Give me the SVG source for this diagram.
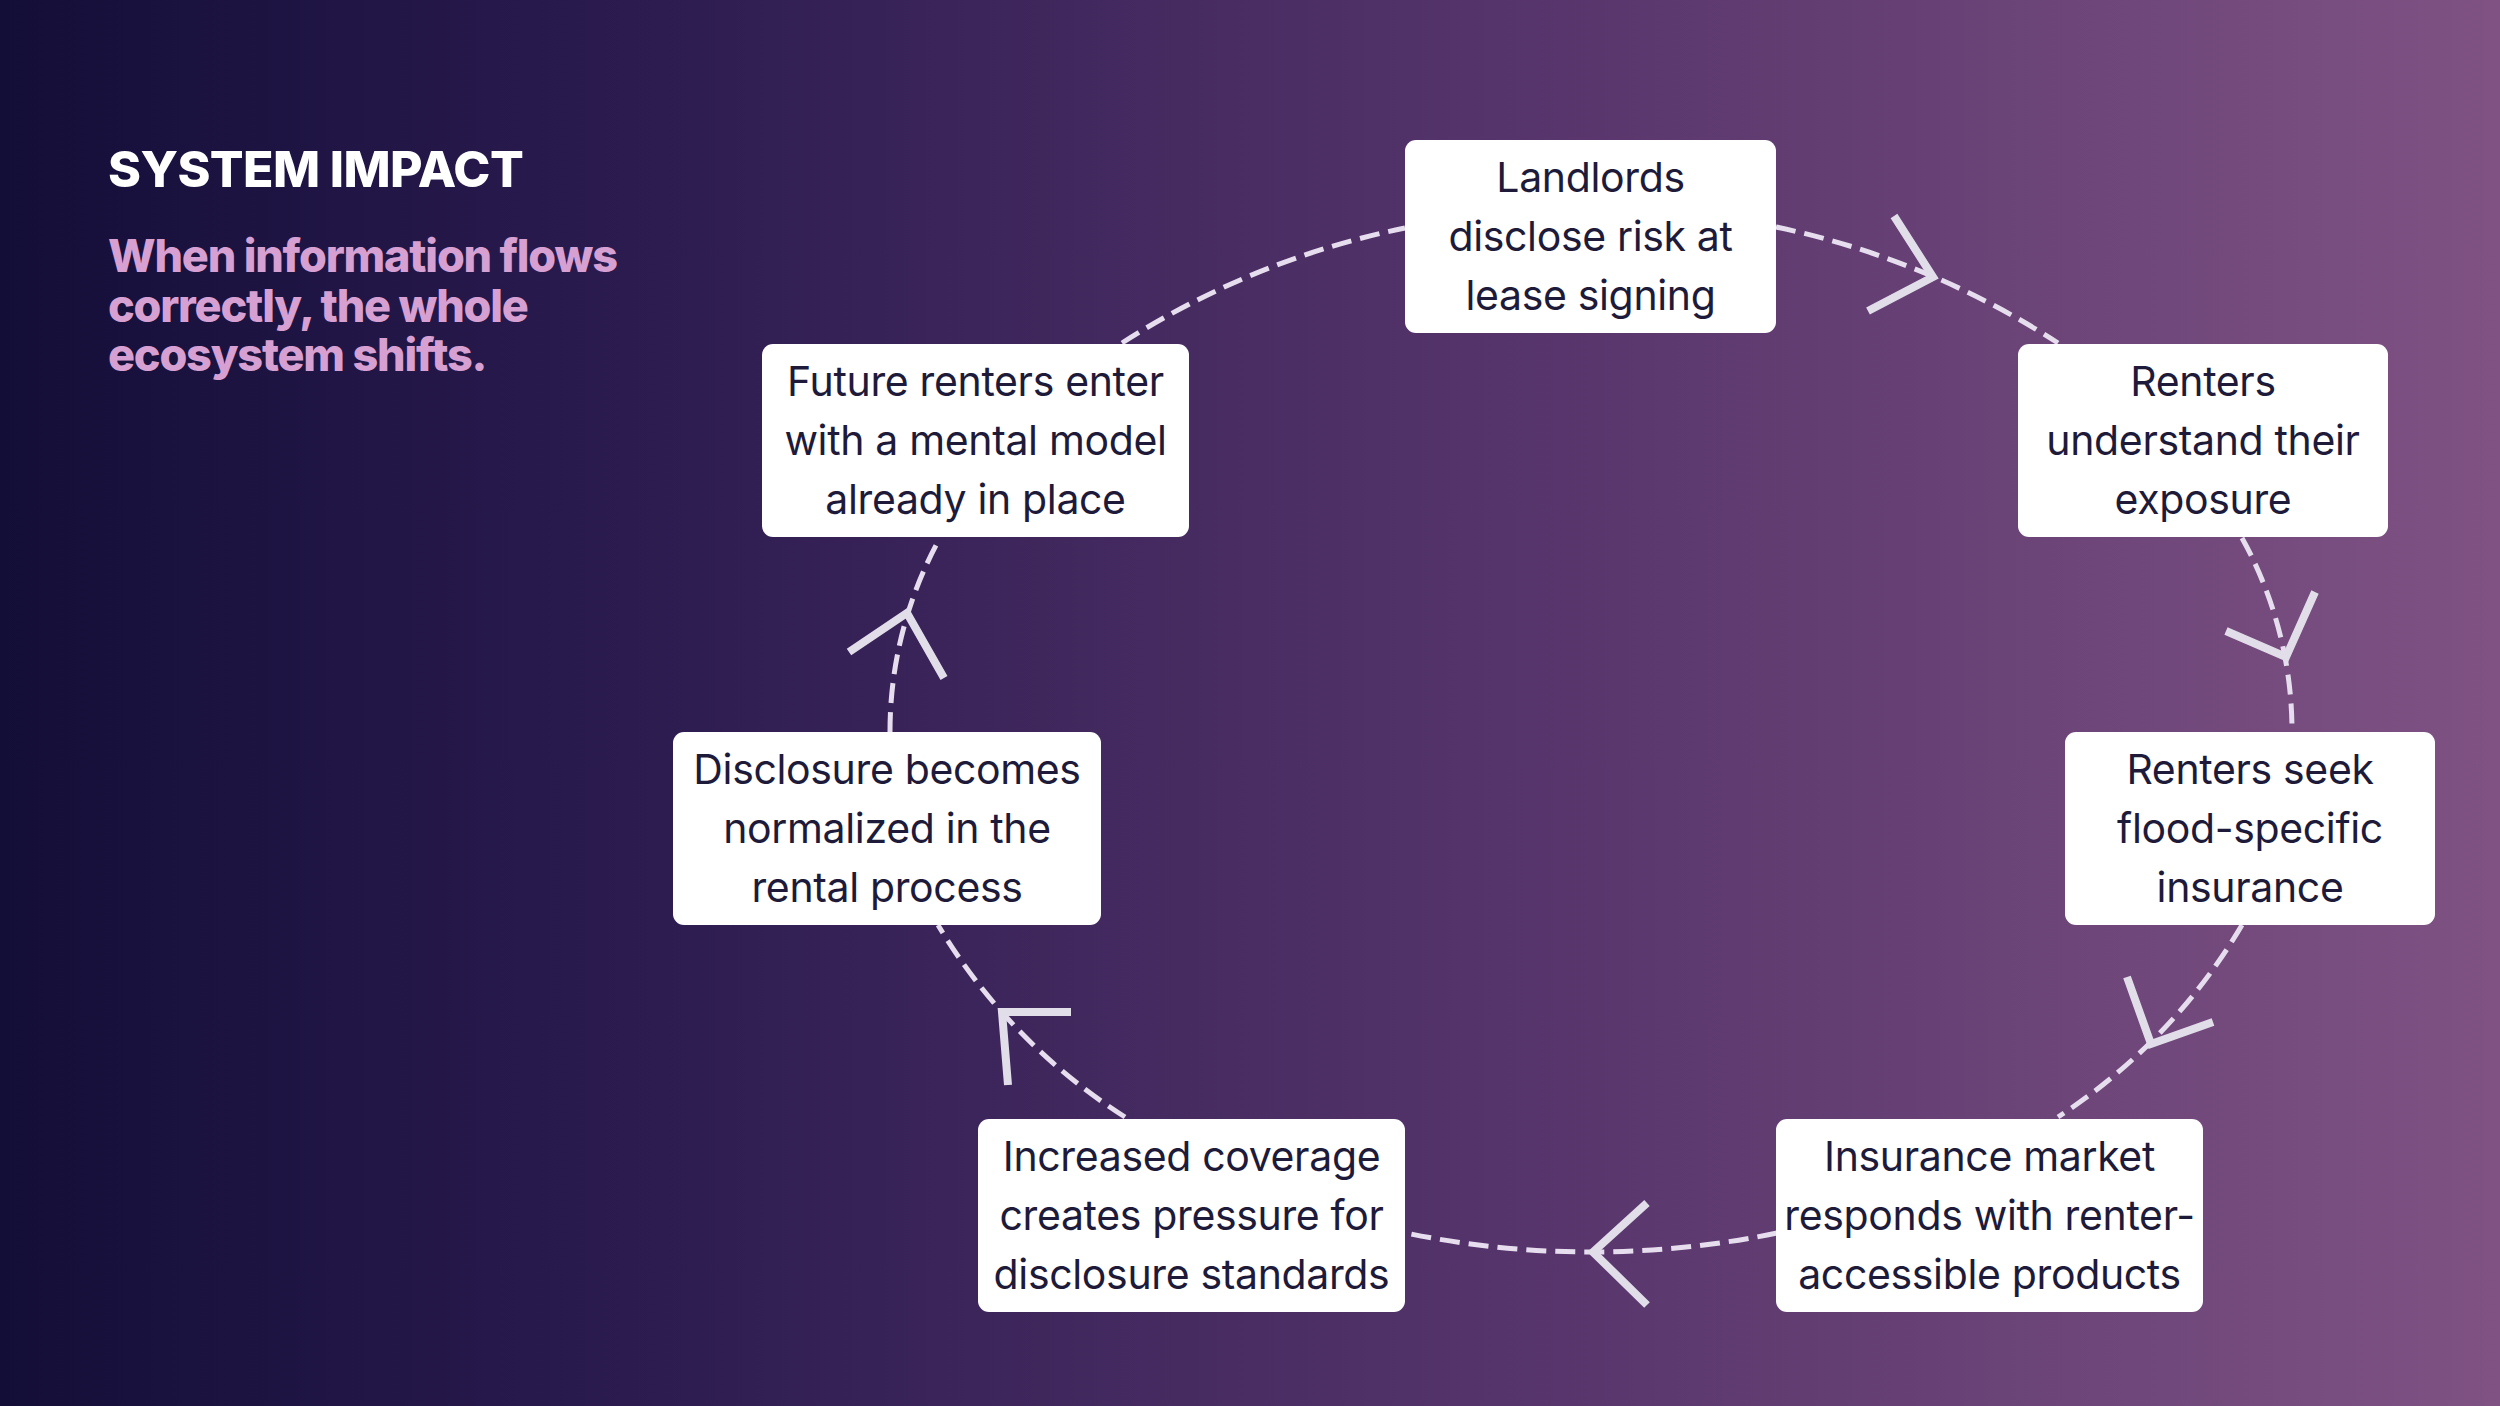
<svg xmlns="http://www.w3.org/2000/svg" width="2500" height="1406" viewBox="0 0 2500 1406">
  <defs>
    <linearGradient id="bg" x1="0" y1="0" x2="1" y2="0">
      <stop offset="0" stop-color="#130E38"/>
      <stop offset="0.25" stop-color="#2B1B4F"/>
      <stop offset="0.6" stop-color="#55346B"/>
      <stop offset="1" stop-color="#7F5283"/>
    </linearGradient>
    <style>
      .title { font-family: Inter, "Liberation Sans", sans-serif; font-weight: 800; font-size: 50px; letter-spacing: -0.6px; fill: #FFFFFF; }
      .sub { font-family: Inter, "Liberation Sans", sans-serif; font-weight: 800; font-size: 45px; letter-spacing: -1.2px; fill: #D7A0D2; }
      .box { fill: #FFFFFF; }
      .lbl { font-family: Inter, "Liberation Sans", sans-serif; font-size: 41px; letter-spacing: -0.35px; fill: #1E1B3A; text-anchor: middle; }
      .conn { fill: none; stroke: #E6DDEE; stroke-width: 5; stroke-dasharray: 20 9; }
      .head { fill: none; stroke: #E1DEEA; stroke-width: 8; stroke-linejoin: miter; stroke-linecap: butt; }
    </style>
  </defs>
  <rect x="0" y="0" width="2500" height="1406" fill="url(#bg)"/>

  <g id="heading">
    <text class="title" x="108" y="187">SYSTEM IMPACT</text>
    <text class="sub" x="108" y="272">When information flows</text>
    <text class="sub" x="108" y="322">correctly, the whole</text>
    <text class="sub" x="108" y="371">ecosystem shifts.</text>
  </g>

  <g id="connectors">
    <path class="conn" d="M1776,227 A832,832 0 0 1 2058,343"/>
    <path class="conn" d="M2242,538 A399,399 0 0 1 2292,730"/>
    <path class="conn" d="M2242,925 A581,581 0 0 1 2058,1117"/>
    <path class="conn" d="M1777,1233 A915,915 0 0 1 1406,1233"/>
    <path class="conn" d="M1125,1117 A581,581 0 0 1 938,925"/>
    <path class="conn" d="M890,732 A399,399 0 0 1 940,538"/>
    <path class="conn" d="M1122,343 A832,832 0 0 1 1405,228"/>
    <polyline class="head" points="1894,216 1933,277 1868,311"/>
    <polyline class="head" points="2226,631 2286,657 2315,592"/>
    <polyline class="head" points="2127,977 2151,1044 2213,1022"/>
    <polyline class="head" points="1647,1203 1593,1252 1647,1305"/>
    <polyline class="head" points="1071,1012 1002,1012 1008,1085"/>
    <polyline class="head" points="849,652 907,613 944,678"/>
  </g>

  <g id="node1">
    <rect class="box" x="1405" y="140" width="371" height="193" rx="11"/>
    <text class="lbl" x="1590.5" y="192">Landlords</text>
    <text class="lbl" x="1590.5" y="251">disclose risk at</text>
    <text class="lbl" x="1590.5" y="310">lease signing</text>
  </g>
  <g id="node2">
    <rect class="box" x="2018" y="344" width="370" height="193" rx="11"/>
    <text class="lbl" x="2203" y="396">Renters</text>
    <text class="lbl" x="2203" y="455">understand their</text>
    <text class="lbl" x="2203" y="514">exposure</text>
  </g>
  <g id="node3">
    <rect class="box" x="2065" y="732" width="370" height="193" rx="11"/>
    <text class="lbl" x="2250" y="784">Renters seek</text>
    <text class="lbl" x="2250" y="843">flood-specific</text>
    <text class="lbl" x="2250" y="902">insurance</text>
  </g>
  <g id="node4">
    <rect class="box" x="1776" y="1119" width="427" height="193" rx="11"/>
    <text class="lbl" x="1989.5" y="1171">Insurance market</text>
    <text class="lbl" x="1989.5" y="1230">responds with renter-</text>
    <text class="lbl" x="1989.5" y="1289">accessible products</text>
  </g>
  <g id="node5">
    <rect class="box" x="978" y="1119" width="427" height="193" rx="11"/>
    <text class="lbl" x="1191.5" y="1171">Increased coverage</text>
    <text class="lbl" x="1191.5" y="1230">creates pressure for</text>
    <text class="lbl" x="1191.5" y="1289">disclosure standards</text>
  </g>
  <g id="node6">
    <rect class="box" x="673" y="732" width="428" height="193" rx="11"/>
    <text class="lbl" x="887" y="784">Disclosure becomes</text>
    <text class="lbl" x="887" y="843">normalized in the</text>
    <text class="lbl" x="887" y="902">rental process</text>
  </g>
  <g id="node7">
    <rect class="box" x="762" y="344" width="427" height="193" rx="11"/>
    <text class="lbl" x="975.5" y="396">Future renters enter</text>
    <text class="lbl" x="975.5" y="455">with a mental model</text>
    <text class="lbl" x="975.5" y="514">already in place</text>
  </g>
</svg>
